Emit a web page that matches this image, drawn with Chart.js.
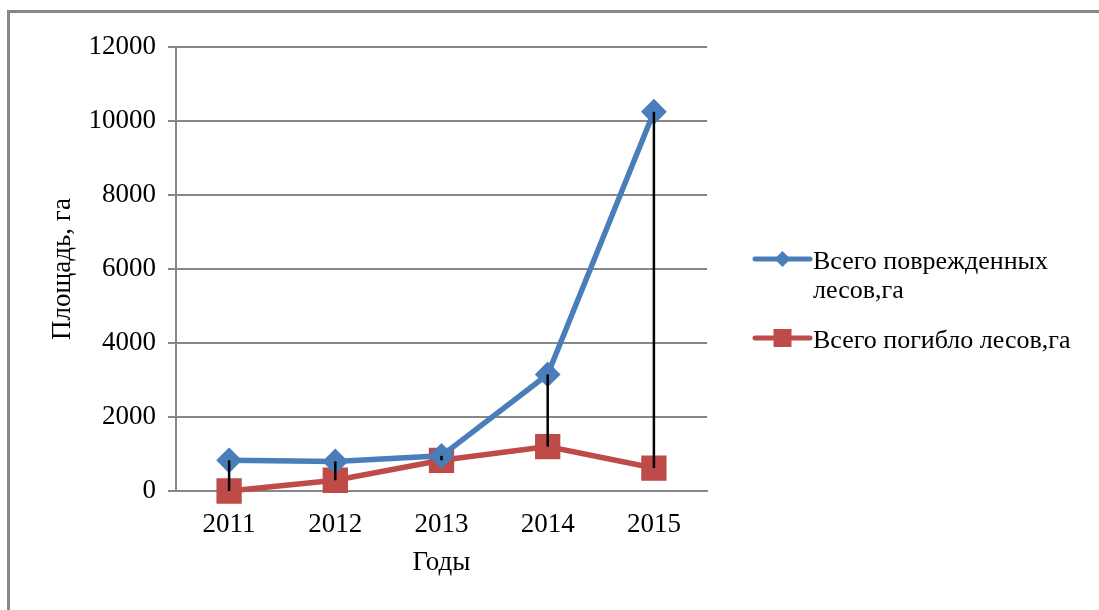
<!DOCTYPE html>
<html>
<head>
<meta charset="utf-8">
<script src="https://cdn.jsdelivr.net/npm/chart.js@4/dist/chart.umd.min.js"></script>
<style>
  html, body { margin: 0; padding: 0; background: #fff; }
  #wrap { width: 1099px; height: 610px; position: relative; }
</style>
</head>
<body>
<div id="wrap"><canvas id="chart"></canvas></div>
<script>
// --- DATA ---
const years = ["2011", "2012", "2013", "2014", "2015"];
const damagedForest = [830, 800, 950, 3150, 10250];
const deadForest = [0, 290, 830, 1200, 620];
const yMin = 0, yMax = 12000, yStep = 2000;

const seriesNames = [["Всего поврежденных", "лесов,га"], ["Всего погибло лесов,га"]];
const seriesColors = ["#4a7ebb", "#be4b48"];

const serif = '"Liberation Serif", "Times New Roman", serif';
const axisGray = "#878787";

// --- frame: top and left edges only ---
const framePlugin = {
    id: "frame",
    beforeDraw(chart) {
        const ctx = chart.ctx;
        ctx.save();
        ctx.fillStyle = "#fff";
        ctx.fillRect(0, 0, chart.width, chart.height);
        ctx.strokeStyle = axisGray;
        ctx.lineWidth = 3;
        ctx.beginPath();
        ctx.moveTo(8.5, chart.height);
        ctx.lineTo(8.5, 11.5);
        ctx.lineTo(chart.width, 11.5);
        ctx.stroke();
        ctx.restore();
    }
};

// --- high-low lines between the two series ---
const hiLoPlugin = {
    id: "hiLo",
    afterDatasetsDraw(chart) {
        const a = chart.getDatasetMeta(0).data;
        const b = chart.getDatasetMeta(1).data;
        const ctx = chart.ctx;
        ctx.save();
        ctx.strokeStyle = "#000";
        ctx.lineWidth = 2.5;
        a.forEach((p, i) => {
            ctx.beginPath();
            ctx.moveTo(p.x, p.y);
            ctx.lineTo(b[i].x, b[i].y);
            ctx.stroke();
        });
        ctx.restore();
    }
};

// --- legend on the right with wrapped text ---
const sideLegendPlugin = {
    id: "sideLegend",
    afterDraw(chart) {
        const ctx = chart.ctx;
        const x0 = 755, x1 = 810, tx = 813;
        const rows = [259, 338];
        ctx.save();
        ctx.font = "26px " + serif;
        ctx.textBaseline = "alphabetic";
        rows.forEach((y, i) => {
            ctx.strokeStyle = seriesColors[i];
            ctx.fillStyle = seriesColors[i];
            ctx.lineWidth = 5;
            ctx.lineCap = "round";
            ctx.beginPath();
            ctx.moveTo(x0, y);
            ctx.lineTo(x1, y);
            ctx.stroke();
            const cx = (x0 + x1) / 2;
            ctx.beginPath();
            if (i === 0) {
                ctx.moveTo(cx, y - 8); ctx.lineTo(cx + 8, y);
                ctx.lineTo(cx, y + 8); ctx.lineTo(cx - 8, y);
                ctx.closePath();
            } else {
                ctx.rect(cx - 9, y - 9, 18, 18);
            }
            ctx.fill();
            ctx.fillStyle = "#000";
            seriesNames[i].forEach((line, k) => {
                ctx.fillText(line, tx, y + 10 + k * 29);
            });
        });
        ctx.restore();
    }
};

new Chart(document.getElementById("chart"), {
    type: "line",
    data: {
        labels: years,
        datasets: [
            {
                label: seriesNames[0].join(" "),
                data: damagedForest,
                borderColor: seriesColors[0],
                backgroundColor: seriesColors[0],
                borderWidth: 5.5,
                pointStyle: "rectRot",
                pointRadius: 9,
                pointHoverRadius: 9,
                tension: 0,
                clip: false
            },
            {
                label: seriesNames[1][0],
                data: deadForest,
                borderColor: seriesColors[1],
                backgroundColor: seriesColors[1],
                borderWidth: 5.5,
                pointStyle: "rect",
                pointRadius: 14,
                pointHoverRadius: 14,
                tension: 0,
                clip: false
            }
        ]
    },
    options: {
        responsive: true,
        maintainAspectRatio: false,
        animation: false,
        events: [],
        layout: { padding: { left: 0, top: 47, right: 392, bottom: 0 } },
        plugins: {
            legend: { display: false },
            tooltip: { enabled: false }
        },
        scales: {
            x: {
                offset: true,
                grid: { display: false },
                border: { display: true, color: axisGray, width: 2 },
                ticks: { color: "#000", font: { family: serif, size: 27 }, padding: 10, maxRotation: 0 },
                title: {
                    display: true, text: "Годы", color: "#000",
                    font: { family: serif, size: 27 },
                    padding: { top: 0, bottom: 31 }
                },
                afterFit(s) { s.height = 119; }
            },
            y: {
                min: yMin, max: yMax,
                ticks: {
                    stepSize: yStep, color: "#000", font: { family: serif, size: 27 }, padding: 12,
                    callback: v => String(v)
                },
                grid: { color: axisGray, lineWidth: 2, tickLength: 8 },
                border: { display: true, color: axisGray, width: 2 },
                title: {
                    display: true, text: "Площадь, га", color: "#000",
                    font: { family: serif, size: 27 },
                    padding: { top: 47, bottom: 0 }
                },
                afterFit(s) { s.width = 176; }
            }
        }
    },
    plugins: [framePlugin, hiLoPlugin, sideLegendPlugin]
});
</script>
</body>
</html>
